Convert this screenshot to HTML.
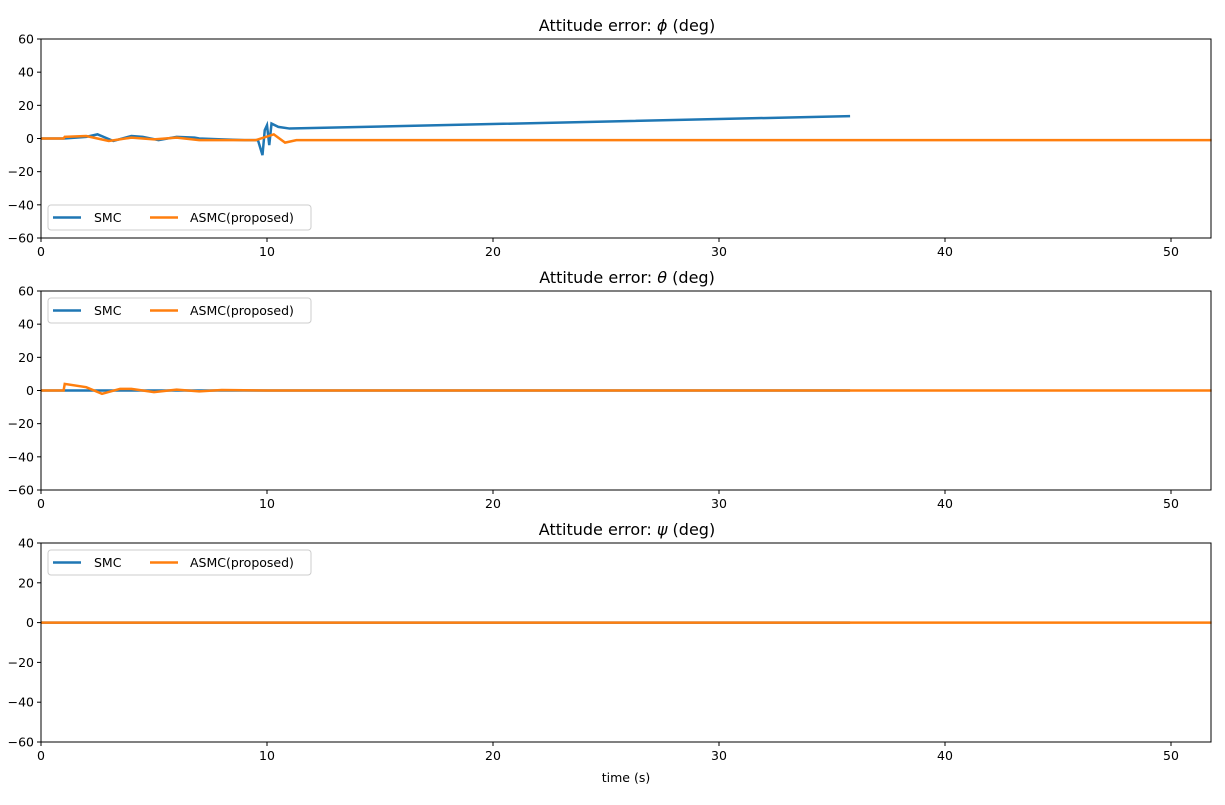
<!DOCTYPE html>
<html><head><meta charset="utf-8"><style>
body{margin:0;background:#fff;}
text{font-family:"DejaVu Sans","Liberation Sans",sans-serif;}
</style></head><body>
<svg id="chart" width="1225" height="800" xmlns="http://www.w3.org/2000/svg"></svg>
<script>
const xTicks=[0,10,20,30,40,50];
const titleSymbols=["\u03d5","\u03b8","\u03c8"];
const yRanges=[[-60,60],[-60,60],[-60,40]];
const yTicks1=[-60,-40,-20,0,20,40,60];
const yTicks2=[-60,-40,-20,0,20,40,60];
const yTicks3=[-60,-40,-20,0,20,40];
const smcT1=[0,1,2,2.5,3.2,4,4.5,5.2,6,6.8,7,8,9,9.6,9.8,9.9,10,10.1,10.2,10.5,11,35.8];
const smcV1=[0,0,1,2.5,-1.5,1.5,1,-1,1,0.5,0,-0.5,-1,-1,-10,5,8,-4,9,7,6,13.5];
const asmcT1=[0,1,1.05,2,2.5,3,4,5,6,7,9.5,10.3,10.8,11.3,51.8];
const asmcV1=[0,0,1,1.5,0,-1.5,0.5,-0.5,0.5,-1,-1,2.5,-2.5,-1,-1];
const smcT2=[0,35.8];
const smcV2=[0,0];
const asmcT2=[0,1,1.05,2,2.7,3.5,4,5,6,7,8,10,51.8];
const asmcV2=[0,0,4,2,-2,1,1,-1,0.5,-0.5,0.3,0,0];
const smcT3=[0,35.8];
const smcV3=[0,0];
const asmcT3=[0,51.8];
const asmcV3=[0,0];
const NS="http://www.w3.org/2000/svg";
const svg=document.getElementById('chart');
const L=41,R=1211,XMAX=51.77;
const tops=[39,291,543],H=199;
function sx(t){return L+(t/XMAX)*(R-L);}
function mk(tag,attrs,parent){const e=document.createElementNS(NS,tag);for(const k in attrs)e.setAttribute(k,attrs[k]);(parent||svg).appendChild(e);return e;}
function fmt(v){return v<0?'\u2212'+Math.abs(v):String(v);}
const yTicksAll=[yTicks1,yTicks2,yTicks3];
const series=[[smcT1,smcV1,asmcT1,asmcV1],[smcT2,smcV2,asmcT2,asmcV2],[smcT3,smcV3,asmcT3,asmcV3]];
for(let p=0;p<3;p++){
  const top=tops[p],[y0,y1]=yRanges[p];
  const sy=v=>top+H-(v-y0)/(y1-y0)*H;
  const t=mk('text',{x:627,y:top-8,'text-anchor':'middle','font-size':16,fill:'#000'});
  
  
  mk('tspan',{},t).textContent='Attitude error: ';
  mk('tspan',{'font-style':'italic'},t).textContent=titleSymbols[p];
  mk('tspan',{},t).textContent=' (deg)';
  for(const v of yTicksAll[p]){
    const y=sy(v);
    mk('line',{x1:L-4,x2:L,y1:y,y2:y,stroke:'#000'});
    const tl=mk('text',{x:L-7,y:y+4.5,'text-anchor':'end','font-size':12.5});
    
    
    tl.textContent=fmt(v);
  }
  for(const v of xTicks){
    const x=sx(v);
    mk('line',{x1:x,x2:x,y1:top+H,y2:top+H+4,stroke:'#000'});
    const tl=mk('text',{x:x,y:top+H+18,'text-anchor':'middle','font-size':12.5});
    
    
    tl.textContent=v;
  }
  const [st,sv,at,av]=series[p];
  const l1=mk('polyline',{points:st.map((t,i)=>sx(t)+','+sy(sv[i])).join(' '),fill:'none',stroke:'#1f77b4','stroke-width':2.5});
  
  
  const l2=mk('polyline',{points:at.map((t,i)=>sx(t)+','+sy(av[i])).join(' '),fill:'none',stroke:'#ff7f0e','stroke-width':2.5});
  
  
  const fr=mk('rect',{x:L,y:top,width:R-L,height:H,fill:'none',stroke:'#000','stroke-width':1});
  
  
  const ly=p===0?top+166:top+7;
  const lg=mk('rect',{x:48,y:ly,width:263,height:25,fill:'#fff','fill-opacity':0.8,stroke:'#ccc',rx:3});
  
  
  mk('line',{x1:53,x2:81,y1:ly+12.5,y2:ly+12.5,stroke:'#1f77b4','stroke-width':2.5});
  const e1=mk('text',{x:94,y:ly+17,'font-size':12.5});
  
  
  e1.textContent='SMC';
  mk('line',{x1:150,x2:178,y1:ly+12.5,y2:ly+12.5,stroke:'#ff7f0e','stroke-width':2.5});
  const e2=mk('text',{x:190,y:ly+17,'font-size':12.5});
  
  
  e2.textContent='ASMC(proposed)';
}
const xl=mk('text',{x:626,y:782,'text-anchor':'middle','font-size':12.5});


xl.textContent='time (s)';
</script>
</body></html>
